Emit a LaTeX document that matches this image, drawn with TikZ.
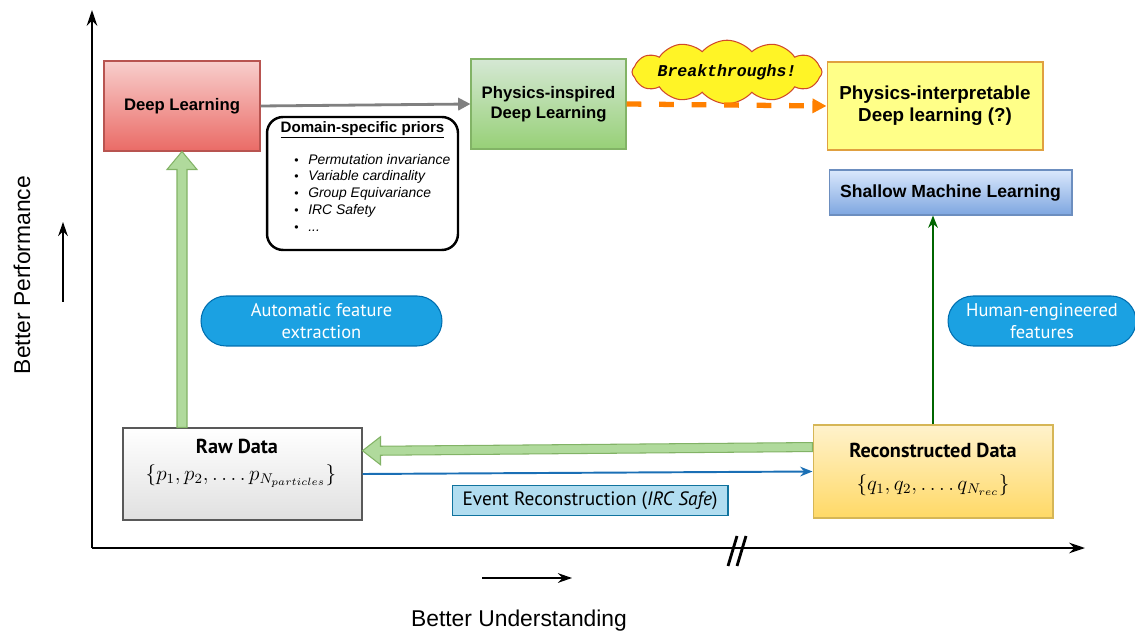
\documentclass[tikz,border=0pt]{standalone}
\usepackage{fontspec}
\setmainfont{Liberation Sans}
\newfontfamily\pillfont{PT Sans}
\newfontfamily\cloudfont{Liberation Mono}
\usetikzlibrary{positioning, calc, arrows.meta, shapes.symbols}

\definecolor{dlTop}{HTML}{F8CECC}
\definecolor{dlBot}{HTML}{EA6B66}
\definecolor{dlLine}{HTML}{B85450}
\definecolor{grTop}{HTML}{D5E8D4}
\definecolor{grBot}{HTML}{97D077}
\definecolor{grLine}{HTML}{82B366}
\definecolor{ylFill}{HTML}{FFFF88}
\definecolor{ylLine}{HTML}{E0A040}
\definecolor{blTop}{HTML}{DAE8FC}
\definecolor{blBot}{HTML}{7EA6E0}
\definecolor{blLine}{HTML}{6C8EBF}
\definecolor{orTop}{HTML}{FFF2CC}
\definecolor{orBot}{HTML}{FFD966}
\definecolor{orLine}{HTML}{D6B656}
\definecolor{pillFill}{HTML}{1BA1E2}
\definecolor{pillLine}{HTML}{006EAF}
\definecolor{evtFill}{HTML}{B1DDF0}
\definecolor{evtLine}{HTML}{10739E}
\definecolor{recoBlue}{HTML}{1A6FB5}
\definecolor{darkGreen}{HTML}{006600}
\definecolor{dashOrange}{HTML}{FF8000}
\definecolor{cloudLine}{HTML}{D04A2A}

\begin{document}
\begin{tikzpicture}[
    % GLOBAL CFG
    x=0.02cm, y=-0.02cm,
    >=Stealth,
    % Styles
    block/.style={
        rectangle,
        draw,
        line width=0.6pt,
        font=\bfseries\fontsize{9.5}{11.5}\selectfont,
        align=center,
        inner sep=2pt,
    },
    pill/.style={
        rectangle,
        rounded corners=0.5cm,
        draw=pillLine,
        fill=pillFill,
        text=white,
        line width=0.6pt,
        minimum height=1cm,
        align=center,
        font=\pillfont\fontsize{10.5}{12.5}\selectfont,
    },
    bigarrow/.style={
        draw=grLine,
        fill=grTop!40!grBot,
        line width=0.6pt,
        line join=miter,
    },
    axis/.style={
        line width=1.3pt,
        -{Stealth[length=9pt,width=6pt]},
    },
    axlabel/.style={
        font=\fontsize{13}{15}\selectfont
    },
]

% Page size
\useasboundingbox (0,0) rectangle (1135,634);

% Axes
    \coordinate (o) at (92,548);
    \coordinate (ytop) at (92,10);
    \coordinate (xend) at (1085,548);
    \draw [axis] (o) -- (ytop);
    \draw [axis] (o) -- (xend);
    % axis break
    \coordinate (brk1) at (728,566);
    \coordinate (brk2) at (737,566);
    \draw [line width=1.6pt] (brk1) -- ++(9,-30);
    \draw [line width=1.6pt] (brk2) -- ++(9,-30);

    % Axis labels with small arrows
    \node[axlabel, rotate=90] (perf) at (22,275) {Better Performance};
    \coordinate (pa) at (63,302);
    \draw [line width=1.1pt, -{Stealth[length=8pt,width=5.5pt]}] (pa) -- ++(0,-80);
    \node[axlabel] (under) at (519,621) {Better Understanding};
    \coordinate (ua) at (482,578);
    \draw [line width=1.1pt, -{Stealth[length=8pt,width=5.5pt]}] (ua) -- ++(90,0);

% Draw the boxes
    \node [block, top color=dlTop, bottom color=dlBot, draw=dlLine,
        minimum width=3.12cm, minimum height=1.8cm] (dl) at (182,106) {Deep Learning};
    \node [block, top color=grTop, bottom color=grBot, draw=grLine,
        minimum width=3.1cm, minimum height=1.8cm] (pidl) at (548.5,104) {Physics-inspired\\Deep Learning};
    \node [block, fill=ylFill, draw=ylLine, font=\bfseries\fontsize{10.7}{12.5}\selectfont,
        minimum width=4.32cm, minimum height=1.76cm] (pidl2) at (935,106) {Physics-interpretable\\Deep learning (?)};
    \node [block, top color=blTop, bottom color=blBot, draw=blLine, font=\bfseries\fontsize{10}{12}\selectfont,
        minimum width=4.86cm, minimum height=0.9cm] (sml) at (950.5,192.5) {Shallow Machine Learning};

    % Priors box
    \node [rectangle, rounded corners=0.32cm, draw, line width=1.4pt,
        minimum width=3.82cm, minimum height=2.66cm] (priors) at (362.5,183.5) {};
    \node [font=\bfseries\fontsize{8.6}{10}\selectfont, inner sep=0pt] (ptitle) at (362.5,130) {\underline{Domain-specific priors}};
    \node [anchor=west, inner sep=0pt, font=\itshape\fontsize{7.9}{9.64}\selectfont, align=left] (plist) at (294,194.5)
        {\begin{tabular}{@{}l@{\hspace{5.5pt}}l@{}}
         {\upshape\scriptsize\textbullet} & Permutation invariance\\
         {\upshape\scriptsize\textbullet} & Variable cardinality\\
         {\upshape\scriptsize\textbullet} & Group Equivariance\\
         {\upshape\scriptsize\textbullet} & IRC Safety\\
         {\upshape\scriptsize\textbullet} & ...
         \end{tabular}};

    % Cloud
    \node [cloud, cloud puffs=12, cloud puff arc=100, aspect=4.2, draw=cloudLine, fill=yellow!85!white,
        line width=0.6pt, minimum width=3.8cm, minimum height=0.95cm, inner sep=-3pt,
        font=\cloudfont\bfseries\itshape\fontsize{9.4}{11}\selectfont] (cloud) at (727,72) {Breakthroughs!};

    % Data boxes
    \node [block, top color=white, bottom color=black!12, draw=black!65,
        minimum width=4.78cm, minimum height=1.84cm] (raw) at (242.5,474) {};
    \node [font=\pillfont\bfseries\fontsize{11.5}{13}\selectfont] (rawt) at (237,446) {Raw Data};
    \node [font=\large] (rawf) at (241,476) {$\{p_1, p_2, \ldots.\, p_{N_{particles}}\}$};
    \node [block, top color=orTop, bottom color=orBot, draw=orLine,
        minimum width=4.8cm, minimum height=1.86cm] (rec) at (933,471.5) {};
    \node [font=\pillfont\bfseries\fontsize{11.5}{13}\selectfont] (rect) at (933,450) {Reconstructed Data};
    \node [font=\large] (recf) at (933,485) {$\{q_1, q_2, \ldots.\, q_{N_{rec}}\}$};

    % Labels
    \node [pill, minimum width=4.82cm] (auto) at (321.5,321) {Automatic feature\\extraction};
    \node [pill, minimum width=3.76cm] (human) at (1042,321) {Human-engineered\\features};
    \node [rectangle, draw=evtLine, fill=evtFill, line width=0.6pt, minimum width=5.52cm, minimum height=0.54cm,
        font=\pillfont\fontsize{11}{13}\selectfont] (evt) at (590,500.5) {Event Reconstruction (\textit{IRC Safe})};

% Connect
    \draw [line width=1.6pt, draw=black!50, -{Triangle[length=7pt,width=7pt]}] (dl.east) -- (pidl.west);
    \draw [line width=3pt, draw=dashOrange, dash pattern=on 8.5pt off 10pt, -{Triangle[length=8pt,width=8pt]}] (pidl.east) -- (pidl2.west);
    \draw [line width=1.1pt, draw=darkGreen, -{Stealth[length=7pt,width=5.5pt]}] (rec.north) -- (rec.north |- sml.south);
    \draw [line width=1.1pt, draw=recoBlue, -{Stealth[length=7pt,width=5.5pt]}] (raw.east) -- (rec.west);

    % Big arrows
    \coordinate (tipV) at (dl.south);
    \coordinate (baseV) at (raw.north -| dl.south);
    \draw [bigarrow] ($(baseV)+(-5,0)$) -- ($(tipV)+(-5,18)$) -- ($(tipV)+(-15,18)$) -- (tipV)
        -- ($(tipV)+(15,18)$) -- ($(tipV)+(5,18)$) -- ($(baseV)+(5,0)$) -- cycle;
    \coordinate (tipH) at ($(raw.north east)!0.25!(raw.south east)$);
    \coordinate (baseH) at ($(rec.north west)!0.24!(rec.south west)$);
    \draw [bigarrow] ($(baseH)+(0,-4.5)$) -- ($(tipH)+(18,-4.5)$) -- ($(tipH)+(18,-14)$) -- (tipH)
        -- ($(tipH)+(18,14)$) -- ($(tipH)+(18,4.5)$) -- ($(baseH)+(0,4.5)$) -- cycle;

\end{tikzpicture}
\end{document}
